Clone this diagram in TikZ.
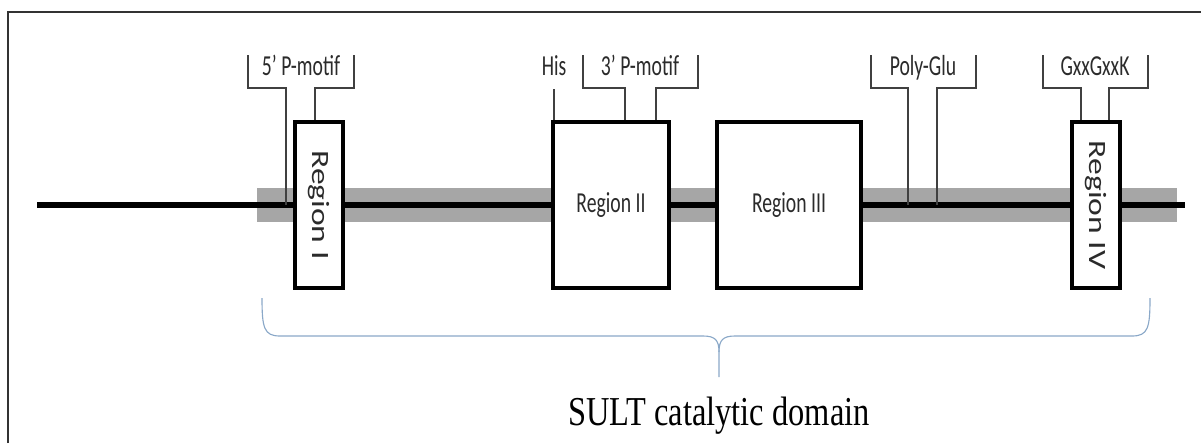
\documentclass[tikz,border=0pt]{standalone}
\usepackage{fontspec}
\newfontfamily\motiffont[FakeStretch=0.68]{Carlito}
\newfontfamily\rotfont[FakeStretch=1.35]{Carlito}
\newfontfamily\domainfont[FakeStretch=0.79]{Liberation Serif}
\usetikzlibrary{positioning, calc}
\definecolor{cband}{HTML}{A6A6A6}
\definecolor{cline}{HTML}{404040}
\definecolor{ctext}{HTML}{2B2B2B}
\definecolor{cbrace}{HTML}{8AA8C8}
\tikzset{
  every picture/.style={x=0.025cm, y=-0.025cm},
  region/.style={draw=black, fill=white, line width=2.8pt, inner sep=0pt, text=ctext, font=\motiffont\fontsize{20.6pt}{24pt}\selectfont},
  regionrot/.style={region, rotate=-90, minimum width=4.15cm, minimum height=1.2cm, font=\rotfont\fontsize{17.7pt}{21pt}\selectfont},
  backbone/.style={draw=black, line width=3.6pt},
  callout/.style={draw=cline, line width=1.1pt},
  motif/.style={anchor=base, inner sep=0pt, text=ctext, font=\motiffont\fontsize{20.6pt}{24pt}\selectfont},
  brace/.style={draw=cbrace, line width=0.8pt},
  frame/.style={draw=black!80, line width=1.1pt},
}

\begin{document}
\begin{tikzpicture}
  \useasboundingbox (0,0) rectangle (1201,443);
  \draw[frame] (8,443) -- (8,12) -- (1201,12);
  \fill[cband] (257,188) rectangle (1177,222);
  \coordinate (spineL) at (37,205);
  \coordinate (spineR) at (1185,205);
  \draw[backbone] (spineL) -- (spineR);
  \node[regionrot] (r1) at (319,205) {Region I};
  \node[region, minimum width=2.9cm, minimum height=4.15cm] (r2) at (611,205) {Region II};
  \node[region, minimum width=3.6cm, minimum height=4.15cm] (r3) at (789,205) {Region III};
  \node[regionrot] (r4) at (1096,205) {Region IV};

  \node[motif] (m5) at (301,75) {5’ P-motif};
  \draw[callout] (248,55) |- (286,88) -- (286,88 |- spineL);
  \draw[callout] (354,55) |- (315,88) -- (315,88 |- r1.west);
  \node[motif] (his) at (554,75) {His};
  \draw[callout] (554,89) -- (554,89 |- r2.north);
  \node[motif] (m3) at (640,75) {3’ P-motif};
  \draw[callout] (583,55) |- (625,88) -- (625,88 |- r2.north);
  \draw[callout] (698,55) |- (656,88) -- (656,88 |- r2.north);
  \node[motif] (pglu) at (923,75) {Poly-Glu};
  \draw[callout] (871,55) |- (908,88) -- (908,88 |- spineL);
  \draw[callout] (976,55) |- (937,88) -- (937,88 |- spineL);
  \node[motif] (gxk) at (1095,75) {GxxGxxK};
  \draw[callout] (1043,55) |- (1081,88) -- (1081,88 |- r4.west);
  \draw[callout] (1148,55) |- (1109,88) -- (1109,88 |- r4.west);

  \coordinate (tip) at (719,377);
  \draw[brace] (262,298) .. controls (262,328) and (264,336) .. (280,336) -- (703,336)
    .. controls (715,336) and (719,340) .. (719,352) -- (tip);
  \draw[brace] (719,352) .. controls (719,340) and (723,336) .. (735,336) -- (1132,336)
    .. controls (1148,336) and (1150,328) .. (1150,298);
  \node[anchor=base, inner sep=0pt, font=\domainfont\fontsize{29.2pt}{34pt}\selectfont] (dom) at (719,425) {SULT catalytic domain};
\end{tikzpicture}
\end{document}
